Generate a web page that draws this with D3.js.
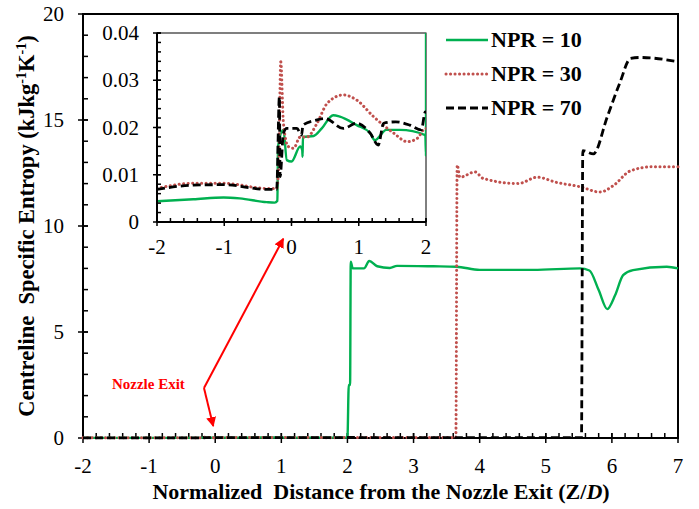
<!DOCTYPE html>
<html>
<head>
<meta charset="utf-8">
<script src="https://cdn.jsdelivr.net/npm/d3@7"></script>
<style>
  body { margin: 0; background: #fff; }
</style>
</head>
<body>
<svg id="chart" width="699" height="509"></svg>
<script>
// values (Z/D, entropy in kJ/kg/K)
const npr10X = [-2, -1.46, -1.01, -0.77, -0.37, -0.25, -0.21, -0.2, -0.12, -0.07, 0.0, 0.13, 0.16, 0.165, 0.17, 0.33, 0.45, 0.62, 0.72, 0.97, 1.17, 1.24, 1.41, 1.61, 1.99, 2.0,
  2.02, 2.04, 2.05, 2.08, 2.25, 2.33, 2.45, 2.64, 2.75, 3.3, 3.65, 4.0, 4.81, 5.52, 5.66, 5.8, 5.93, 6.05, 6.17, 6.32, 6.83, 7.0];
const npr10Y = [0.0044, 0.0048, 0.0052, 0.005, 0.0042, 0.0041, 0.0045, 0.016, 0.0195, 0.0131, 0.0128, 0.016, 0.0152, 0.0138, 0.018, 0.0182, 0.0198, 0.0226, 0.0223, 0.0205, 0.0188, 0.0173, 0.0195, 0.0195, 0.0184, 0.014,
  2.5, 2.5, 8.32, 8.0, 8.0, 8.35, 8.1, 8.02, 8.12, 8.1, 8.08, 7.93, 7.93, 8.0, 7.9, 6.98, 6.08, 6.74, 7.68, 7.92, 8.08, 8.0];

const npr30X = [-2, -1.46, -1.01, -0.37, -0.22, -0.19, -0.16, -0.12, -0.05, 0.03, 0.13, 0.23, 0.38, 0.53, 0.77, 0.97, 1.22, 1.52, 1.72, 1.87, 1.99, 2.5, 3.0, 3.64,
  3.66, 3.7, 3.93, 4.05, 4.58, 4.87, 5.17, 5.52, 5.82, 6.02, 6.28, 6.63, 7.0];
const npr30Y = [0.0071, 0.0082, 0.0082, 0.0071, 0.0071, 0.012, 0.0339, 0.0209, 0.016, 0.0156, 0.018, 0.018, 0.0209, 0.0251, 0.0269, 0.0258, 0.0223, 0.0188, 0.017, 0.0177, 0.0198, 0.02, 0.02, 0.02,
  12.88, 12.3, 12.55, 12.25, 12.0, 12.3, 12.05, 11.85, 11.6, 11.9, 12.6, 12.8, 12.8];

const npr70X = [-2, -1.46, -1.01, -0.37, -0.22, -0.18, -0.17, -0.12, -0.07, 0.08, 0.15, 0.17, 0.38, 0.5, 0.77, 0.97, 1.17, 1.29, 1.37, 1.55, 1.76, 1.93, 1.99, 2.5, 4.0, 5.54,
  5.56, 5.72, 5.93, 6.12, 6.28, 6.43, 7.0];
const npr70Y = [0.0069, 0.0078, 0.0079, 0.0069, 0.0069, 0.0265, 0.0096, 0.0188, 0.0198, 0.0198, 0.0184, 0.0205, 0.0216, 0.0219, 0.0198, 0.0209, 0.0188, 0.0163, 0.0209, 0.0212, 0.0205, 0.0195, 0.0233, 0.02, 0.02, 0.02,
  13.55, 13.4, 15.15, 16.75, 17.9, 17.95, 17.75];

const seriesNames = ['NPR = 10', 'NPR = 30', 'NPR = 70'];
const mainXTicks = [-2, -1, 0, 1, 2, 3, 4, 5, 6, 7];
const mainYTicks = [0, 5, 10, 15, 20];
const insetXTicks = [-2, -1, 0, 1, 2];
const insetYTicks = [0, 0.01, 0.02, 0.03, 0.04];

const serif = 'Liberation Serif';

const toPoints = (xs, ys) => xs.map((x, i) => [x, ys[i]]);
const series = [
  { name: seriesNames[0], pts: toPoints(npr10X, npr10Y), color: '#00b050', width: 2.4, dash: null, cap: 'butt' },
  { name: seriesNames[1], pts: toPoints(npr30X, npr30Y), color: '#c0504d', width: 3, dash: '0.1 4.4', cap: 'round' },
  { name: seriesNames[2], pts: toPoints(npr70X, npr70Y), color: '#000000', width: 2.8, dash: '8 4', cap: 'butt' }
];

const svg = d3.select('#chart').attr('font-family', serif);

// main plot
const x = d3.scaleLinear().domain([-2, 7]).range([83, 678]);
const y = d3.scaleLinear().domain([0, 20]).range([438, 14]);

// frame
svg.append('rect')
  .attr('x', x(-2)).attr('y', y(20))
  .attr('width', x(7) - x(-2)).attr('height', y(0) - y(20))
  .attr('fill', 'none').attr('stroke', '#000').attr('stroke-width', 2);

function drawTicks(g, sx, sy, xMajor, xMinorStep, yMajor, yMinorStep, major, minor) {
  const [x0, x1] = sx.domain();
  const [y0, y1] = sy.domain();
  const xMinor = d3.range(x0, x1 + 1e-9, xMinorStep);
  const yMinor = d3.range(y0, y1 + 1e-12, yMinorStep);
  g.selectAll('.xmin').data(xMinor).enter().append('line')
    .attr('x1', d => sx(d)).attr('x2', d => sx(d))
    .attr('y1', sy(y0)).attr('y2', sy(y0) - minor)
    .attr('stroke', '#000').attr('stroke-width', 1.5);
  g.selectAll('.xmaj').data(xMajor).enter().append('line')
    .attr('x1', d => sx(d)).attr('x2', d => sx(d))
    .attr('y1', sy(y0) + major).attr('y2', sy(y0) - major)
    .attr('stroke', '#000').attr('stroke-width', 1.5);
  g.selectAll('.ymin').data(yMinor).enter().append('line')
    .attr('y1', d => sy(d)).attr('y2', d => sy(d))
    .attr('x1', sx(x0)).attr('x2', sx(x0) + minor)
    .attr('stroke', '#000').attr('stroke-width', 1.5);
  g.selectAll('.ymaj').data(yMajor).enter().append('line')
    .attr('y1', d => sy(d)).attr('y2', d => sy(d))
    .attr('x1', sx(x0) - major).attr('x2', sx(x0) + major)
    .attr('stroke', '#000').attr('stroke-width', 1.5);
}

const mainAxes = svg.append('g');
drawTicks(mainAxes, x, y, mainXTicks, 0.2, mainYTicks, 1, 5, 5);

mainAxes.selectAll('.xl').data(mainXTicks).enter().append('text')
  .attr('x', d => x(d)).attr('y', y(0) + 35)
  .attr('text-anchor', 'middle').attr('font-family', serif).style('font-size', '21px')
  .text(d => String(d));
mainAxes.selectAll('.yl').data(mainYTicks).enter().append('text')
  .attr('x', x(-2) - 19).attr('y', d => y(d) + 7)
  .attr('text-anchor', 'end').attr('font-family', serif).style('font-size', '21px')
  .text(d => String(d));

const mainLine = d3.line().x(d => x(d[0])).y(d => y(d[1])).curve(d3.curveMonotoneX);
series.forEach(s => {
  svg.append('path')
    .attr('d', mainLine(s.pts))
    .attr('fill', 'none')
    .attr('stroke', s.color)
    .attr('stroke-width', s.width)
    .attr('stroke-dasharray', s.dash)
    .attr('stroke-linecap', s.cap);
});

// axis titles
svg.append('text')
  .attr('transform', `translate(34,${(y(0) + y(20)) / 2}) rotate(-90)`)
  .attr('text-anchor', 'middle').attr('font-family', serif)
  .style('font-size', '22.5px').style('font-weight', 'bold')
  .html('Centreline\u00a0 Specific Entropy (kJkg<tspan dy="-8" font-size="14">-1</tspan><tspan dy="8">K</tspan><tspan dy="-8" font-size="14">-1</tspan><tspan dy="8">)</tspan>');

svg.append('text')
  .attr('x', 381).attr('y', 499)
  .attr('text-anchor', 'middle').attr('font-family', serif)
  .style('font-size', '22px').style('font-weight', 'bold')
  .html('Normalized\u00a0 Distance from the Nozzle Exit (Z/<tspan font-style="italic">D</tspan>)');

// inset
const ix = d3.scaleLinear().domain([-2, 2]).range([157, 426]);
const iy = d3.scaleLinear().domain([0, 0.04]).range([222, 33]);

svg.append('rect')
  .attr('x', ix(-2)).attr('y', iy(0.04))
  .attr('width', ix(2) - ix(-2)).attr('height', iy(0) - iy(0.04))
  .attr('fill', '#fff').attr('stroke', '#000').attr('stroke-width', 1);

svg.append('clipPath').attr('id', 'insetClip')
  .append('rect')
  .attr('x', ix(-2)).attr('y', iy(0.04))
  .attr('width', ix(2) - ix(-2)).attr('height', iy(0) - iy(0.04));

const insetLine = d3.line().x(d => ix(d[0])).y(d => iy(d[1])).curve(d3.curveMonotoneX);
const insetG = svg.append('g').attr('clip-path', 'url(#insetClip)');
series.forEach(s => {
  insetG.append('path')
    .attr('d', insetLine(s.pts))
    .attr('fill', 'none')
    .attr('stroke', s.color)
    .attr('stroke-width', s.width)
    .attr('stroke-dasharray', s.dash)
    .attr('stroke-linecap', s.cap);
});

const insetAxes = svg.append('g');
insetAxes.append('line')
  .attr('x1', ix(-2)).attr('x2', ix(2)).attr('y1', iy(0)).attr('y2', iy(0))
  .attr('stroke', '#000').attr('stroke-width', 2);
insetAxes.append('line')
  .attr('x1', ix(-2)).attr('x2', ix(-2)).attr('y1', iy(0)).attr('y2', iy(0.04))
  .attr('stroke', '#000').attr('stroke-width', 2);
drawTicks(insetAxes, ix, iy, insetXTicks, 0.2, insetYTicks, 0.002, 4, 4);

insetAxes.selectAll('.xl').data(insetXTicks).enter().append('text')
  .attr('x', d => ix(d)).attr('y', iy(0) + 32)
  .attr('text-anchor', 'middle').attr('font-family', serif).style('font-size', '21px')
  .text(d => String(d));
insetAxes.selectAll('.yl').data(insetYTicks).enter().append('text')
  .attr('x', ix(-2) - 18).attr('y', d => iy(d) + 7)
  .attr('text-anchor', 'end').attr('font-family', serif).style('font-size', '21px')
  .text(d => d === 0 ? '0' : d.toFixed(2));

// legend
const legend = svg.append('g').attr('transform', 'translate(446,40)');
series.forEach((s, i) => {
  const row = legend.append('g').attr('transform', `translate(0,${i * 34})`);
  row.append('line')
    .attr('x1', 0).attr('x2', 42).attr('y1', 0).attr('y2', 0)
    .attr('stroke', s.color)
    .attr('stroke-width', s.width)
    .attr('stroke-dasharray', s.dash)
    .attr('stroke-linecap', s.cap);
  row.append('text')
    .attr('x', 45).attr('y', 7)
    .attr('font-family', serif)
    .style('font-size', '22px').style('font-weight', 'bold')
    .text(s.name);
});

// nozzle exit annotation (positions in data units of the main plot)
const junction = [-0.17, 2.36];
const tipUp = [1.03, 9.4];
const tipDown = [-0.03, 0.56];

const defs = svg.append('defs');
defs.append('marker')
  .attr('id', 'arrowHead')
  .attr('viewBox', '0 0 10 10')
  .attr('refX', 9).attr('refY', 5)
  .attr('markerWidth', 5).attr('markerHeight', 5)
  .attr('markerUnits', 'strokeWidth')
  .attr('orient', 'auto')
  .append('path').attr('d', 'M0,0 L10,5 L0,10 z').attr('fill', '#ff0000');

[tipUp, tipDown].forEach(tip => {
  svg.append('line')
    .attr('x1', x(junction[0])).attr('y1', y(junction[1]))
    .attr('x2', x(tip[0])).attr('y2', y(tip[1]))
    .attr('stroke', '#ff0000').attr('stroke-width', 2)
    .attr('marker-end', 'url(#arrowHead)');
});

svg.append('text')
  .attr('x', x(junction[0]) - 92).attr('y', y(junction[1]) + 1)
  .attr('font-family', serif)
  .style('font-size', '15px').style('font-weight', 'bold')
  .attr('fill', '#ff0000')
  .text('Nozzle Exit');
</script>
</body>
</html>
